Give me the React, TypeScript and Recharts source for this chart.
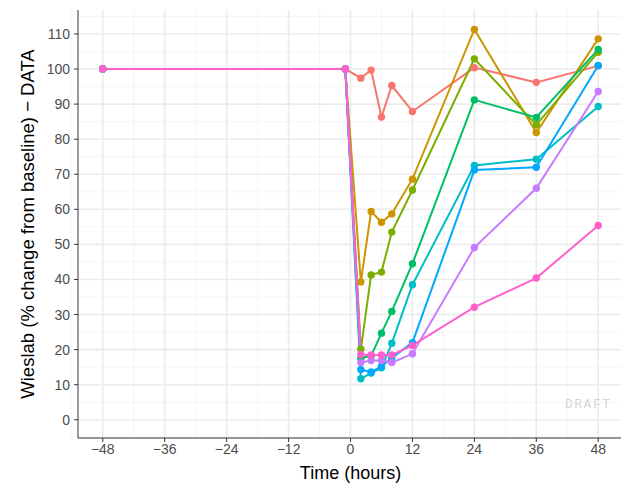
import React from "react";
import { LineChart, Line, XAxis, YAxis, CartesianGrid, Label } from "recharts";

// sampling times (hours)
const times = [-48, -1, 2, 4, 6, 8, 12, 24, 36, 48];

// one series per subject, drawn in this order (last on top)
const seriesNames = ["s1", "s2", "s3", "s4", "s5", "s6", "s7", "s8"];
const seriesColors = ["#F8766D", "#CD9600", "#7CAE00", "#00BE67", "#00BFC4", "#00A9FF", "#C77CFF", "#FF61CC"];

const s1 = [100, 100, 97.4, 99.7, 86.3, 95.3, 87.9, 100.4, 96.2, 100.9];
const s2 = [100, 100, 39.3, 59.4, 56.3, 58.7, 68.6, 111.3, 81.9, 108.6];
const s3 = [100, 100, 20.1, 41.3, 42.1, 53.5, 65.5, 102.9, 84.1, 104.8];
const s4 = [100, 100, 17.6, 18.2, 24.7, 30.9, 44.5, 91.2, 86.2, 105.6];
const s5 = [100, 100, 11.7, 13.3, 14.8, 21.8, 38.5, 72.5, 74.3, 89.3];
const s6 = [100, 100, 14.3, 13.6, 15.2, 17.6, 22.0, 71.2, 72.0, 101.0];
const s7 = [100, 100, 16.3, 16.9, 16.9, 16.3, 18.8, 49.1, 66.0, 93.6];
const s8 = [100, 100, 18.6, 18.5, 18.5, 18.5, 21.2, 32.1, 40.4, 55.4];

const seriesValues = [s1, s2, s3, s4, s5, s6, s7, s8];

const xTicks = [-48, -36, -24, -12, 0, 12, 24, 36, 48];
const xMinor = [-54, -42, -30, -18, -6, 6, 18, 30, 42, 54];
const yTicks = [0, 10, 20, 30, 40, 50, 60, 70, 80, 90, 100, 110];
const yMinor = [-5, 5, 15, 25, 35, 45, 55, 65, 75, 85, 95, 105, 115];

const data = times.map((t, i) => {
    const row: any = { time: t };
    seriesNames.forEach((name, j) => {
        row[name] = seriesValues[j][i];
    });
    return row;
});

const fmt = (v: number) => (v < 0 ? `\u2212${Math.abs(v)}` : `${v}`);

export default function App() {
    return (
        <div style={{ position: "fixed", left: 0, top: 0, width: 621, height: 484, overflow: "hidden", background: "#fff" }}>
            <LineChart
                width={623}
                height={484}
                data={data}
                margin={{ top: 10, right: 0, bottom: 0, left: 0 }}
                style={{ fontFamily: "'Liberation Sans', Arial, sans-serif" }}
            >
                {/* minor grid */}
                <CartesianGrid
                    verticalValues={xMinor}
                    horizontalValues={yMinor}
                    stroke="#F3F3F3"
                    strokeWidth={0.8}
                />
                {/* major grid */}
                <CartesianGrid
                    verticalValues={xTicks}
                    horizontalValues={yTicks}
                    stroke="#EBEBEB"
                    strokeWidth={1.6}
                />
                <XAxis
                    dataKey="time"
                    type="number"
                    domain={[-52.8, 52.8]}
                    allowDataOverflow
                    ticks={xTicks}
                    tickFormatter={fmt}
                    height={46}
                    tickSize={4}
                    tickMargin={2}
                    stroke="#333333"
                    tick={{ fill: "#4D4D4D", fontSize: 14 }}
                    interval={0}
                >
                    <Label value="Time (hours)" position="insideBottom" offset={5} fill="#000" fontSize={18} />
                </XAxis>
                <YAxis
                    type="number"
                    domain={[-5.2, 116.83]}
                    allowDataOverflow
                    ticks={yTicks}
                    width={78}
                    tickSize={4}
                    tickMargin={4}
                    stroke="#333333"
                    tick={{ fill: "#4D4D4D", fontSize: 14 }}
                    interval={0}
                >
                    <Label
                        value={"Wieslab (% change from baseline) \u2212 DATA"}
                        angle={-90}
                        position="insideLeft"
                        offset={27}
                        fill="#000"
                        fontSize={18.5}
                        style={{ textAnchor: "middle" }}
                    />
                </YAxis>
                {seriesNames.map((name, j) => (
                    <Line
                        key={name}
                        dataKey={name}
                        stroke={seriesColors[j]}
                        strokeWidth={2}
                        dot={{ r: 3.7, fill: seriesColors[j], stroke: "none" }}
                        activeDot={false}
                        isAnimationActive={false}
                    />
                ))}
            </LineChart>
            <div
                style={{
                    position: "absolute",
                    left: 565,
                    top: 397,
                    fontFamily: "'Liberation Mono', 'Courier New', monospace",
                    fontSize: 13,
                    letterSpacing: 1.5,
                    color: "#D6D6D6",
                }}
            >
                DRAFT
            </div>
        </div>
    );
}
